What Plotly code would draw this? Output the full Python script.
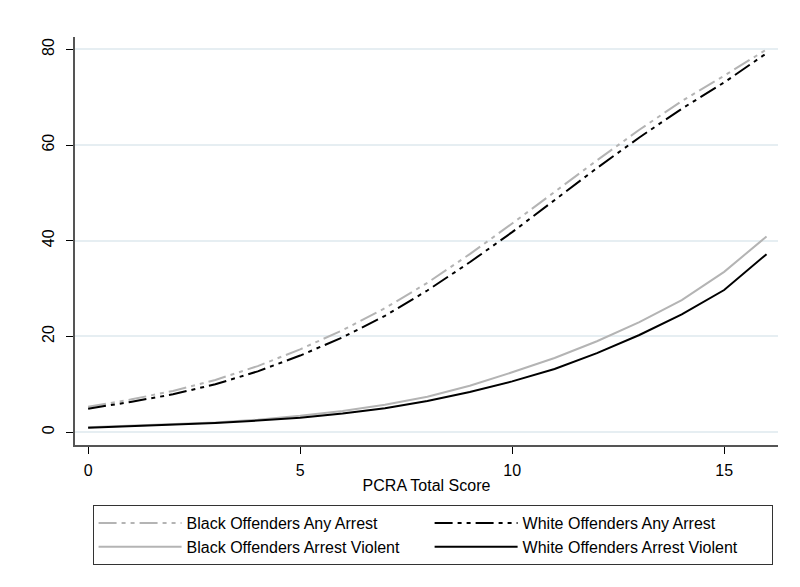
import plotly.graph_objects as go

# PCRA total score (x) and predicted arrest rates (%)
score = list(range(17))

black_any = [5.3, 6.8, 8.6, 10.9, 13.8, 17.3, 21.3, 25.9, 31.2, 37.2, 43.6,
             50.2, 56.8, 63.2, 69.2, 74.5, 80.0]
white_any = [4.9, 6.3, 7.9, 10.0, 12.7, 16.0, 19.8, 24.3, 29.6, 35.5, 41.8,
             48.5, 55.2, 61.6, 67.6, 73.1, 79.2]
black_violent = [1.0, 1.3, 1.6, 2.0, 2.6, 3.4, 4.4, 5.7, 7.4, 9.7, 12.5,
                 15.5, 19.0, 23.0, 27.6, 33.5, 40.9]
white_violent = [0.9, 1.2, 1.5, 1.9, 2.4, 3.0, 3.9, 5.0, 6.5, 8.4, 10.6,
                 13.2, 16.5, 20.3, 24.6, 29.7, 37.2]

x_ticks = [0, 5, 10, 15]
y_ticks = [0, 20, 40, 60, 80]

GRAY = "#b4b4b4"
BLACK = "#000000"
DASHDOT = "18px,5px,4px,5px,4px,5px"

fig = go.Figure()
fig.add_trace(go.Scatter(x=score, y=black_any, mode="lines",
                         name="Black Offenders Any Arrest",
                         line=dict(color=GRAY, width=2, dash=DASHDOT)))
fig.add_trace(go.Scatter(x=score, y=white_any, mode="lines",
                         name="White Offenders Any Arrest",
                         line=dict(color=BLACK, width=2, dash=DASHDOT)))
fig.add_trace(go.Scatter(x=score, y=black_violent, mode="lines",
                         name="Black Offenders Arrest Violent",
                         line=dict(color=GRAY, width=2)))
fig.add_trace(go.Scatter(x=score, y=white_violent, mode="lines",
                         name="White Offenders Arrest Violent",
                         line=dict(color=BLACK, width=2)))

fig.update_layout(
    width=800, height=587,
    margin=dict(l=67, r=30, t=29, b=150),
    paper_bgcolor="white", plot_bgcolor="white",
    font=dict(family="Liberation Sans, Arial, sans-serif", size=16, color="black"),
    legend=dict(
        orientation="h",
        x=0.025, xanchor="left",
        y=-0.147, yanchor="top",
        entrywidth=0.478, entrywidthmode="fraction",
        bordercolor="#333333", borderwidth=1,
        itemwidth=83,
        font=dict(size=16),
    ),
    showlegend=True,
)

fig.update_xaxes(
    range=[-0.31, 16.27], tickvals=x_ticks,
    showline=True, linecolor="#555555", linewidth=1.5,
    ticks="outside", ticklen=7, tickcolor="black",
    ticklabelstandoff=3,
    showgrid=False, zeroline=False,
    tickfont=dict(size=16),
    title=dict(text="PCRA Total Score", font=dict(size=16), standoff=2),
)
fig.update_yaxes(
    range=[-2.7, 82.6], tickvals=y_ticks, tickangle=-90,
    showline=True, linecolor="#555555", linewidth=1.5,
    ticks="outside", ticklen=7, tickcolor="black",
    ticklabelstandoff=6,
    showgrid=True, gridcolor="#e6eef2", gridwidth=1.5,
    zeroline=False,
    tickfont=dict(size=16),
)

fig.write_html("out.html")
